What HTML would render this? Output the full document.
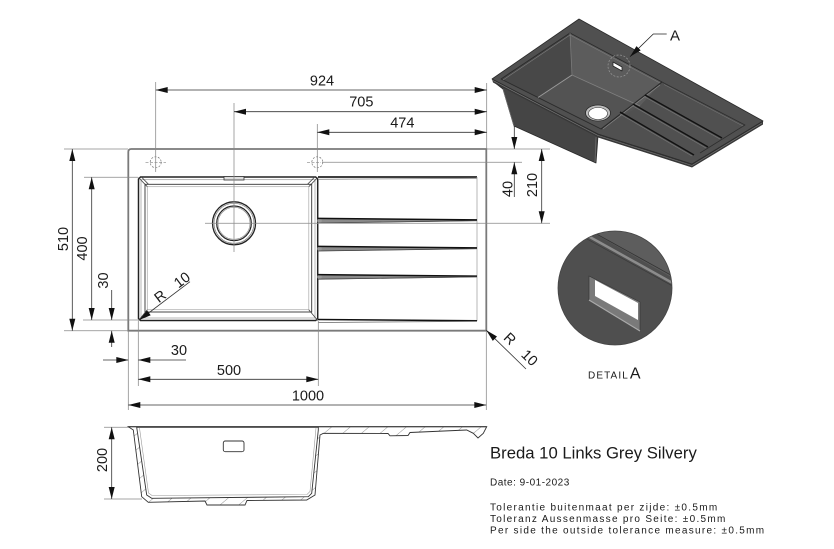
<!DOCTYPE html>
<html><head><meta charset="utf-8"><style>
html,body{margin:0;padding:0;background:#fff;}
svg{display:block;}
text{font-family:"Liberation Sans",Arial,sans-serif;fill:#1a1a1a;}
</style></head><body>
<svg width="834" height="549" viewBox="0 0 834 549" xmlns="http://www.w3.org/2000/svg">
<defs>
<pattern id="h" width="12" height="12" patternUnits="userSpaceOnUse" patternTransform="rotate(50)">
<line x1="0" y1="0" x2="0" y2="12" stroke="#777" stroke-width="0.8"/>
</pattern>
<clipPath id="dc"><circle cx="615" cy="288" r="57"/></clipPath>
</defs>
<rect width="834" height="549" fill="#fff"/>

<!-- ===== PLAN VIEW ===== -->
<g fill="none">
<path d="M131.3,149 H486.3 V330.7 H128.3 V152 Q128.3,149 131.3,149 Z" stroke="#7a7a7a" stroke-width="1.8"/>
<path d="M140.5,177 H315.7 L317.7,179 V318.5 L315.7,320.5 H140.5 L138.5,318.5 V179 Z" stroke="#222" stroke-width="1.5"/>
<rect x="141" y="179.7" width="174" height="138.3" stroke="#999" stroke-width="0.7"/>
<rect x="145" y="184.3" width="166.7" height="127.7" stroke="#333" stroke-width="0.9"/>
<rect x="147.3" y="186.7" width="161.5" height="123" stroke="#aaa" stroke-width="0.7"/>
<path d="M138.5,177.5 L147.3,186.7 M141.5,177 L148.5,184.3 M317.7,177.5 L308.8,186.7 M314.7,177 L307.5,184.3 M317.7,320.5 L308.8,309.7 M138.5,320.5 L147.3,309.7" stroke="#444" stroke-width="0.8"/>
<rect x="224" y="176.5" width="20" height="3.5" fill="#ddd" stroke="#333" stroke-width="0.8"/>
<circle cx="234" cy="223.3" r="21.5" stroke="#222" stroke-width="1.3"/>
<circle cx="234" cy="223.3" r="20" stroke="#777" stroke-width="0.7"/>
<circle cx="234" cy="223.3" r="17.3" stroke="#222" stroke-width="1.2"/>
<circle cx="234" cy="223.3" r="16" stroke="#888" stroke-width="0.6"/>
<circle cx="155.7" cy="162.3" r="5.5" stroke="#777" stroke-width="0.7" stroke-dasharray="2,1.5"/>
<circle cx="317.3" cy="162.3" r="5.5" stroke="#777" stroke-width="0.7" stroke-dasharray="2,1.5"/>
<path d="M145.5,162.3 H166 M307,162.3 H321" stroke="#888" stroke-width="0.7" stroke-dasharray="3,1.5"/>
<path d="M318,177 H477" stroke="#222" stroke-width="1.7"/>
<path d="M318,179.3 L477,178.3" stroke="#888" stroke-width="0.8"/>
<path d="M477,177 V321" stroke="#999" stroke-width="0.7"/>
<g>
<polygon points="318,218 477,219.6 477,221 318,223.3" fill="#8a8a8a"/>
<circle cx="319.5" cy="220.7" r="2.3" fill="#999"/>
<path d="M318,218.4 L477,219.9" stroke="#111" stroke-width="1.5"/>
<path d="M318,223 L477,220.7" stroke="#444" stroke-width="0.8"/>
<polygon points="318,246 477,247.6 477,249 318,251.3" fill="#8a8a8a"/>
<circle cx="319.5" cy="248.7" r="2.3" fill="#999"/>
<path d="M318,246.4 L477,247.9" stroke="#111" stroke-width="1.5"/>
<path d="M318,251 L477,248.7" stroke="#444" stroke-width="0.8"/>
<polygon points="318,274.2 477,275.8 477,277.2 318,279.5" fill="#8a8a8a"/>
<circle cx="319.5" cy="276.9" r="2.3" fill="#999"/>
<path d="M318,274.6 L477,276.1" stroke="#111" stroke-width="1.5"/>
<path d="M318,279.2 L477,276.9" stroke="#444" stroke-width="0.8"/>
<path d="M318,319.5 L477,320.8" stroke="#111" stroke-width="1.5"/>
<path d="M318,322.5 L477,321.3" stroke="#666" stroke-width="0.8"/>
</g>
</g>

<g stroke="#888" stroke-width="0.75" fill="none">
<path d="M155.7,82 V172"/>
<path d="M234,103 V252"/>
<path d="M317.3,124 V172"/>
<path d="M486.7,83 V149"/>
<path d="M487,149 H550"/>
<path d="M322,162.3 H522"/>
<path d="M205,223.3 H550"/>
<path d="M64,149 H128"/>
<path d="M84,177.3 H138"/>
<path d="M83,320 H138"/>
<path d="M64,330.7 H128"/>
<path d="M128.3,331 V410"/>
<path d="M138.3,321 V386"/>
<path d="M318.3,321 V386"/>
<path d="M486.3,331 V410"/>
<path d="M104,427.3 H130"/>
<path d="M104,499 H142"/>
</g>

<g stroke="#333" stroke-width="0.8" fill="none">
<path d="M155.7,90 H486.7"/>
<path d="M234,111.7 H486.7"/>
<path d="M317.3,132.3 H486.7"/>
<path d="M514.3,125 V149 M514.3,162.3 V197"/>
<path d="M541.7,149 V223.3"/>
<path d="M72.3,149 V330.7"/>
<path d="M91.7,177.3 V320"/>
<path d="M111.7,290 V320 M111.7,330.7 V347"/>
<path d="M103,360 H128.3 M138.3,360 H186"/>
<path d="M138.3,379.3 H318.3"/>
<path d="M128.3,405 H486.3"/>
<path d="M139.3,320 L190,281.7"/>
<path d="M486.3,330.3 L526,369"/>
<path d="M111.7,427.3 V499"/>
</g>

<g fill="#111">
<polygon points="155.7,90 167.7,87 167.7,93"/>
<polygon points="486.7,90 474.7,87 474.7,93"/>
<polygon points="234,111.7 246,108.7 246,114.7"/>
<polygon points="486.7,111.7 474.7,108.7 474.7,114.7"/>
<polygon points="317.3,132.3 329.3,129.3 329.3,135.3"/>
<polygon points="486.7,132.3 474.7,129.3 474.7,135.3"/>
<polygon points="514.3,149 511.3,137 517.3,137"/>
<polygon points="514.3,162.3 511.3,174.3 517.3,174.3"/>
<polygon points="541.7,149 538.7,161 544.7,161"/>
<polygon points="541.7,223.3 538.7,211.3 544.7,211.3"/>
<polygon points="72.3,149 69.3,161 75.3,161"/>
<polygon points="72.3,330.7 69.3,318.7 75.3,318.7"/>
<polygon points="91.7,177.3 88.7,189.3 94.7,189.3"/>
<polygon points="91.7,320 88.7,308 94.7,308"/>
<polygon points="111.7,320 108.7,308 114.7,308"/>
<polygon points="111.7,330.7 108.7,342.7 114.7,342.7"/>
<polygon points="128.3,360 116.3,357 116.3,363"/>
<polygon points="138.3,360 150.3,357 150.3,363"/>
<polygon points="138.3,379.3 150.3,376.3 150.3,382.3"/>
<polygon points="318.3,379.3 306.3,376.3 306.3,382.3"/>
<polygon points="128.3,405 140.3,402 140.3,408"/>
<polygon points="486.3,405 474.3,402 474.3,408"/>
<polygon points="139.3,320 150.7,315.2 147.1,310.4"/>
<polygon points="486.3,330.3 497,336.5 492.8,340.9"/>
<polygon points="111.7,427.3 108.7,439.3 114.7,439.3"/>
<polygon points="111.7,499 108.7,487 114.7,487"/>
</g>

<g font-size="14.5" text-anchor="middle">
<text x="322" y="85.5">924</text>
<text x="361.3" y="106.5">705</text>
<text x="402.3" y="127.5">474</text>
<text x="179" y="355">30</text>
<text x="229" y="375">500</text>
<text x="308" y="400.5">1000</text>
<text transform="translate(68.2,239) rotate(-90)">510</text>
<text transform="translate(87.2,248.5) rotate(-90)">400</text>
<text transform="translate(108.2,280.5) rotate(-90)">30</text>
<text transform="translate(512.7,189) rotate(-90)">40</text>
<text transform="translate(536.9,185) rotate(-90)">210</text>
<text transform="translate(107.2,460) rotate(-90)">200</text>
<text transform="translate(175.1,291.2) rotate(-37)" word-spacing="10">R 10</text>
<text transform="translate(517.4,352.7) rotate(44)" word-spacing="10">R 10</text>
</g>

<!-- ===== SIDE VIEW ===== -->
<path d="M128.3,426.7 L486.7,426.7 L483.3,433.3 L478,438 L473.3,433.3 L466.7,430 L410,432.5 L408,435.5 L390,435.8 L388,433.5 L323.3,433.3 L320,435 L315,495 L306.7,500 L247,500.5 L245,505 L207,505 L205,501 L148.3,502.3 L141.7,496.7 L133.3,430 Z" fill="url(#h)" stroke="#333" stroke-width="0.9"/>
<path d="M136.7,427.3 L146.7,495 L151.7,498.3 L308.3,496.7 L311.7,493.3 L318.3,430 L318.3,427.3 Z" fill="#fff" stroke="#333" stroke-width="0.9"/>
<path d="M139.5,428 L148.5,493 L152,495.5 L307,494.5 L310,491.5 L316,428" fill="none" stroke="#999" stroke-width="0.6"/>
<path d="M128.3,426.7 H486.7" stroke="#333" stroke-width="1"/>
<rect x="223.3" y="441" width="20.7" height="10.7" rx="2" fill="none" stroke="#333" stroke-width="0.9"/>

<!-- ===== 3D VIEW ===== -->
<g stroke-linejoin="round">
<polygon points="494,82 598,136 596,163 514,126 503,89" fill="#454545" stroke="#2a2a2a" stroke-width="0.8"/>
<path d="M503,89 L514,126" stroke="#6a6a6a" stroke-width="0.8"/>
<path d="M596,137 L595,162" stroke="#6a6a6a" stroke-width="0.8"/>
<polygon points="492,79 598,134 692,164 763,121 763,124.5 692,167.5 598,137.5 493,82.5" fill="#383838"/>
<polygon points="492,79 579,19 763,121 692,164 598,134" fill="#505050" stroke="#2a2a2a" stroke-width="0.8"/>
<path d="M493,80.5 L598,135.5 L692,165.5 L762,123" fill="none" stroke="#7a7a7a" stroke-width="0.6"/>
<polygon points="501,79 570,33 572,75 538,97.5" fill="#484848"/>
<polygon points="570,33 662,82 640,106 572,75" fill="#5c5c5c"/>
<polygon points="538,97.5 572,75 640,106 601,129" fill="#535353"/>
<polygon points="501,79 570,33 662,82 601,129" fill="none" stroke="#2a2a2a" stroke-width="0.9"/>
<path d="M503,80 L570,35 L660,83" fill="none" stroke="#7c7c7c" stroke-width="0.6"/>
<path d="M538,97.5 L572,75" stroke="#9a9a9a" stroke-width="1"/>
<path d="M572,75 L640,106" stroke="#808080" stroke-width="0.8"/>
<path d="M570,33 L572,75" stroke="#7a7a7a" stroke-width="0.8"/>
<path d="M662,82 L601,129" stroke="#2a2a2a" stroke-width="0.9"/>
<path d="M660,85 L603,129" stroke="#8a8a8a" stroke-width="0.6"/>
<ellipse cx="598" cy="113" rx="12.5" ry="8" fill="#bdbdbd" stroke="#2a2a2a" stroke-width="0.8"/>
<ellipse cx="598" cy="113.5" rx="9.5" ry="6" fill="#fff" stroke="#333" stroke-width="0.6"/>
<path d="M662,82 L745,125 L700,153" fill="none" stroke="#2e2e2e" stroke-width="0.8"/>
<path d="M664,84.5 L743,126" fill="none" stroke="#7a7a7a" stroke-width="0.5"/>
<g stroke="#111" stroke-width="1.4">
<path d="M645,95 L722,138"/>
<path d="M633,104 L708,147"/>
<path d="M620,112 L694,155"/>
</g>
<g stroke="#7a7a7a" stroke-width="0.6">
<path d="M645,97 L720,139"/>
<path d="M633,106 L706,148"/>
<path d="M620,114 L692,156"/>
</g>
<circle cx="619" cy="66" r="11" fill="none" stroke="#999" stroke-width="0.7" stroke-dasharray="2,1.5"/>
<polygon points="613,62 622,67 622,71 613,66" fill="#fff" stroke="#222" stroke-width="0.8"/>
<polyline points="630,56.7 653.3,34 666.7,34" fill="none" stroke="#222" stroke-width="0.8"/>
<polygon points="630,56.7 640.7,50.4 636.5,46.1" fill="#111"/>
</g>
<text x="670" y="40.7" font-size="15">A</text>

<!-- ===== DETAIL A ===== -->
<circle cx="615" cy="288" r="57" fill="#4f4f4f"/>
<g clip-path="url(#dc)">
<polygon points="588,230 680,282 690,200 560,200" fill="#5d5d5d"/>
<path d="M588,236 L678,286" stroke="#8c8c8c" stroke-width="2.5"/>
<path d="M592,231.5 L678,279" stroke="#333" stroke-width="0.8"/>
<path d="M586,238.5 L678,289" stroke="#3a3a3a" stroke-width="0.7"/>
</g>
<circle cx="615" cy="288" r="57" fill="none" stroke="#444" stroke-width="0.8"/>
<polygon points="589,276 640,302 640,331 589,300" fill="#7a7a7a" stroke="#333" stroke-width="0.6"/>
<polygon points="595,280 638,303 638,320 595,296" fill="#fff"/>
<path d="M589,300 L640,331" stroke="#aaa" stroke-width="1.2"/>
<text x="588" y="378.3"><tspan font-size="10" letter-spacing="1.1">DETAIL</tspan><tspan font-size="16" dx="1">A</tspan></text>

<!-- ===== TEXT BLOCK ===== -->
<text x="490" y="458.3" font-size="16.7">Breda 10 Links Grey Silvery</text>
<text x="490" y="485.7" font-size="10" letter-spacing="0.5">Date: 9-01-2023</text>
<g font-size="10" letter-spacing="1.3">
<text x="490" y="510.5">Tolerantie buitenmaat per zijde: ±0.5mm</text>
<text x="490" y="522">Toleranz Aussenmasse pro Seite: ±0.5mm</text>
<text x="490" y="533.5">Per side the outside tolerance measure: ±0.5mm</text>
</g>
</svg>
</body></html>
